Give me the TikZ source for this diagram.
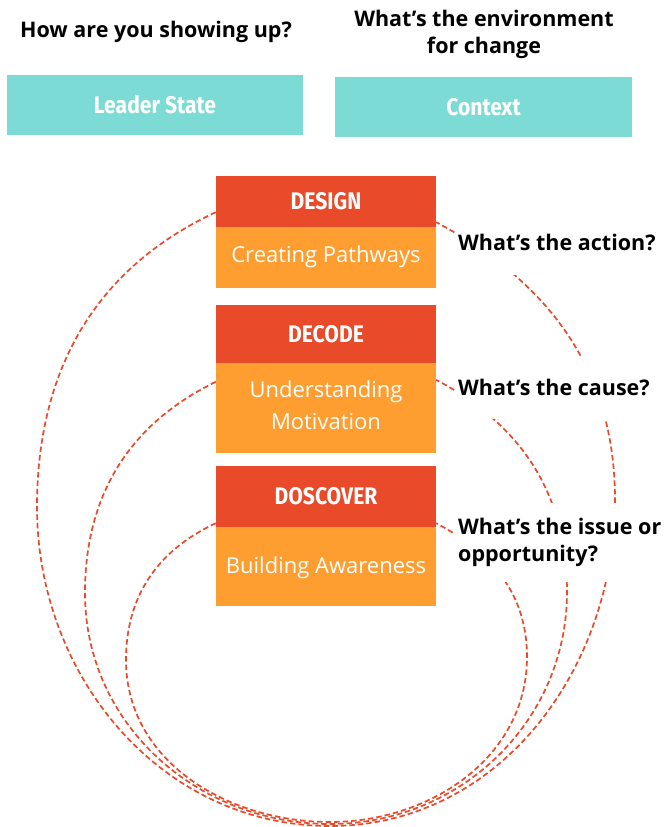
\documentclass[tikz,border=0pt]{standalone}
\usepackage{fontspec}
\setmainfont{Open Sans}
\newfontfamily\condfont[FakeStretch=0.88]{Fira Sans}
\usetikzlibrary{calc}
\definecolor{tealbox}{HTML}{7DDBD5}
\definecolor{redbox}{HTML}{E84A2A}
\definecolor{orangebox}{HTML}{FE9D30}
\definecolor{loopred}{HTML}{E84A2A}
\begin{document}
\begin{tikzpicture}[x=1pt,y=1pt,
  tealrect/.style={fill=tealbox, minimum width=296, minimum height=60, inner sep=0, text=white,
    font=\condfont\bfseries\fontsize{24}{28}\selectfont, text height=16.5pt, text depth=0pt},
  titlerect/.style={fill=redbox, minimum width=220, inner sep=0, text=white,
    font=\condfont\bfseries\fontsize{24}{28}\selectfont, text height=16.5pt, text depth=0pt},
  bodyrect/.style={fill=orangebox, minimum width=220, inner sep=0, text=white,
    font=\fontsize{22}{32}\selectfont},
  bodytext/.style={inner sep=0, text=white, font=\fontsize{22}{32}\selectfont, align=center},
  question/.style={font=\bfseries\fontsize{21.5}{27.5}\selectfont, align=center, inner sep=0},
  sidequestion/.style={fill=white, font=\bfseries\fontsize{21.5}{27}\selectfont, align=left,
    anchor=west, inner xsep=3pt, inner ysep=0pt},
  loopline/.style={draw=loopred, line width=1.7pt, dash pattern=on 5.5pt off 3pt},
]
\useasboundingbox (0,0) rectangle (664,-827);

% header questions
\node[question, anchor=base] (qleader) at (156,-37) {How are you showing up?};
\node[question] (qcontext) at (484,-34.5) {What’s the environment\\for change};

% teal boxes
\node[tealrect] (leader) at (155,-105) {Leader State};
\node[tealrect, minimum width=297] (context) at (483.5,-107) {Context};

% stacked boxes
\node[titlerect, minimum height=51] (designT) at (326,-201.5) {DESIGN};
\node[bodyrect, minimum height=61, text height=10.7pt, text depth=0pt] (designB) at (326,-257.5) {Creating Pathways};
\node[titlerect, minimum height=58] (decodeT) at (326,-334) {DECODE};
\node[bodyrect, minimum height=90] (decodeB) at (326,-408) {};
\node[bodytext] (decodeL) at (326,-405) {Understanding\\Motivation};
\node[titlerect, minimum height=61] (discT) at (326,-496.5) {DOSCOVER};
\node[bodyrect, minimum height=79, text height=14.7pt, text depth=0pt] (discB) at (326,-566.5) {Building Awareness};

% loops
\draw[loopline] ($(designT.south west)+(0,15)$) to[out=205,in=90] (37,-507)
  to[out=-90,in=180] (330,-826) to[out=0,in=-90] (615,-500)
  to[out=90,in=-28] ($(designT.south east)+(0,5)$);
\draw[loopline] ($(decodeB.north west)+(0,-19)$) to[out=206,in=90] (85,-593)
  to[out=-90,in=180] (330,-824) to[out=0,in=-90] (567,-592)
  to[out=90,in=-28] ($(decodeB.north east)+(0,-17)$);
\draw[loopline] ($(discT.south west)+(0,4)$) to[out=205,in=90] (126,-660)
  to[out=-90,in=180] (330,-822) to[out=0,in=-90] (527,-657)
  to[out=90,in=-28] ($(discT.south east)+(0,4)$);

% side questions (white background masks the loops)
\node[sidequestion, minimum height=65] (qaction) at (455,-242) {What’s the action?};
\node[sidequestion, minimum height=63] (qcause) at (455,-387) {What’s the cause?};
\node[sidequestion, minimum height=79] (qissue) at (455,-542) {What’s the issue or\\opportunity?};
\end{tikzpicture}
\end{document}
